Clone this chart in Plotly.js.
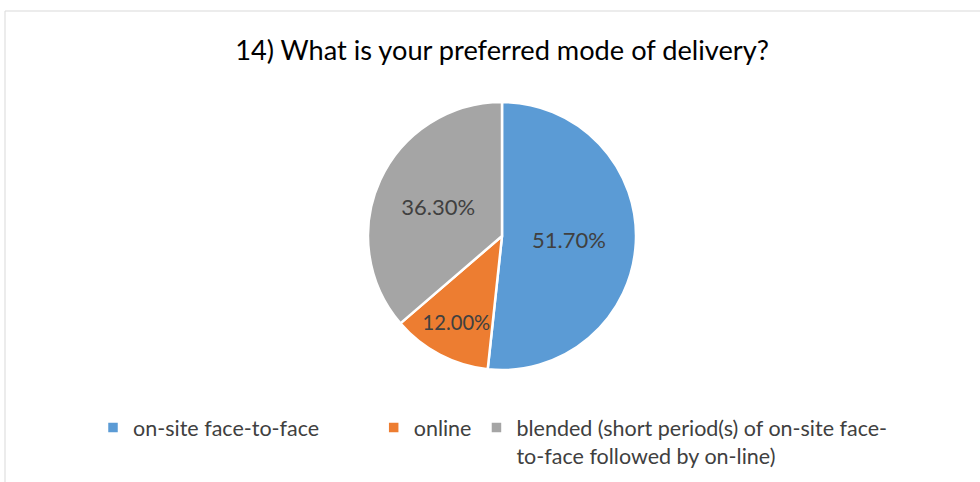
<!DOCTYPE html>
<html>
<head>
<meta charset="utf-8">
<script src="https://cdn.plot.ly/plotly-3.0.1.min.js"></script>
<style>
html,body{margin:0;padding:0;background:#fff;}
#chart{width:980px;height:482px;}
</style>
</head>
<body>
<div id="chart"></div>
<script>
const chartTitle = "14) What is your preferred mode of delivery?";
const categories = ["on-site face-to-face", "online", "blended (short period(s) of on-site face-<br>to-face followed by on-line)"];
const shares = [51.7, 12.0, 36.3];
const sliceColors = ["#5b9bd5", "#ed7d31", "#a5a5a5"];
const labelTexts = shares.map(v => v.toFixed(2) + "%");

// extra spacing after legend entries (visual only)
const legendPad = [9, 0, 0];
const legendLabels = categories.map((c, i) => c + "\u00A0".repeat(legendPad[i]));

const W = 980, H = 482;
const cx = 502, cy = 236, r = 134;
const FONT = "Lato, 'Open Sans', sans-serif";

const trace = {
  type: "pie",
  labels: legendLabels,
  values: shares,
  text: labelTexts,
  textinfo: "text",
  textposition: "inside",
  insidetextorientation: "horizontal",
  sort: false,
  direction: "clockwise",
  rotation: 0,
  marker: {colors: sliceColors, line: {color: "#ffffff", width: 2.5}},
  textfont: {family: FONT, size: 22, color: "#404040"},
  domain: {x: [(cx - r) / W, (cx + r) / W], y: [(H - (cy + r)) / H, (H - (cy - r)) / H]},
  hoverinfo: "label+percent"
};

const layout = {
  width: W, height: H,
  margin: {l: 0, r: 0, t: 0, b: 0},
  paper_bgcolor: "#ffffff",
  title: {text: chartTitle, font: {family: FONT, size: 27.2, color: "#000000"}, x: 502 / W, xanchor: "center", y: 1 - 50 / H, yanchor: "middle"},
  showlegend: true,
  legend: {
    orientation: "h",
    x: 93 / W, xanchor: "left",
    y: 1 - 407 / H, yanchor: "top",
    font: {family: FONT, size: 21.5, color: "#404040"},
    itemwidth: 30,
    traceorder: "normal",
    valign: "top"
  },
  shapes: [
    {type: "line", xref: "paper", yref: "paper", x0: 5 / W, x1: 1.01, y0: 1 - 11 / H, y1: 1 - 11 / H, line: {color: "#d9d9d9", width: 1}},
    {type: "line", xref: "paper", yref: "paper", x0: 5 / W, x1: 5 / W, y0: -0.01, y1: 1 - 11 / H, line: {color: "#d9d9d9", width: 1}}
  ]
};

Plotly.newPlot("chart", [trace], layout, {displayModeBar: false, staticPlot: true});
</script>
</body>
</html>
